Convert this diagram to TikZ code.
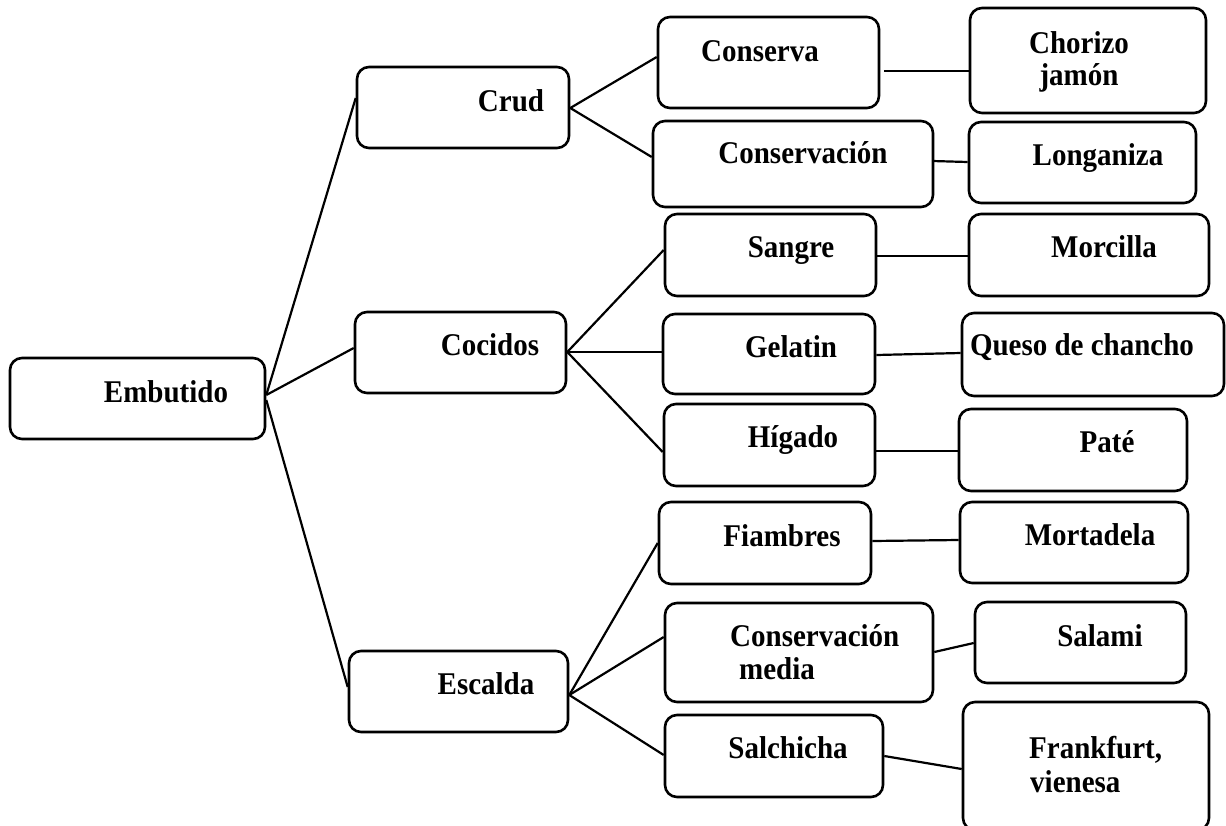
\documentclass[tikz,border=0pt]{standalone}
\usepackage{fontspec}
\usepackage{graphicx}
\setmainfont{Liberation Serif}
\usetikzlibrary{calc}
\newcommand\tallt[1]{\scalebox{1}[1.09]{#1}}
\begin{document}
\begin{tikzpicture}[x=1pt,y=-1pt,
  box/.style={draw,line width=2.6pt,rounded corners=12pt,inner sep=0pt},
  lbl/.style={anchor=base,inner sep=0pt,font=\fontsize{29}{34}\selectfont\bfseries},
  lblw/.style={lbl,anchor=base west},
  link/.style={line width=2.2pt}]
\useasboundingbox (0,0) rectangle (1226,825);

% boxes
\node[box,minimum width=255pt,minimum height=81pt] (emb) at (137.5,398.5) {};
\node[box,minimum width=212pt,minimum height=81pt] (crud) at (463,107.5) {};
\node[box,minimum width=211pt,minimum height=81pt] (coc) at (460.5,352.5) {};
\node[box,minimum width=219pt,minimum height=81pt] (esc) at (458.5,691.5) {};
\node[box,minimum width=221pt,minimum height=91pt] (cons) at (768.5,62.5) {};
\node[box,minimum width=280pt,minimum height=86pt] (consv) at (793,164) {};
\node[box,minimum width=211pt,minimum height=82pt] (sang) at (770.5,255) {};
\node[box,minimum width=212pt,minimum height=80pt] (gel) at (769,354) {};
\node[box,minimum width=211pt,minimum height=82pt] (hig) at (769.5,445) {};
\node[box,minimum width=212pt,minimum height=82pt] (fia) at (765,543) {};
\node[box,minimum width=268pt,minimum height=99pt] (cm) at (799,652.5) {};
\node[box,minimum width=218pt,minimum height=82pt] (salc) at (774,756) {};
\node[box,minimum width=236pt,minimum height=105pt] (chor) at (1088,60.5) {};
\node[box,minimum width=227pt,minimum height=81pt] (long) at (1082.5,162.5) {};
\node[box,minimum width=240pt,minimum height=82pt] (morc) at (1089,255) {};
\node[box,minimum width=262pt,minimum height=83pt] (ques) at (1093,354.5) {};
\node[box,minimum width=228pt,minimum height=82pt] (pate) at (1073,450) {};
\node[box,minimum width=228pt,minimum height=81pt] (mort) at (1074,542.5) {};
\node[box,minimum width=211pt,minimum height=81pt] (sala) at (1080.5,642.5) {};
\node[box,minimum width=246pt,minimum height=128pt] (frank) at (1086,766) {};

% labels
\node[lbl] (tEmb) at (166,402) {\tallt{Embutido}};
\node[lbl] (tCrud) at (511,111) {\tallt{Crud}};
\node[lbl] (tCoc) at (490,355) {\tallt{Cocidos}};
\node[lbl] (tEsc) at (486,694) {\tallt{Escalda}};
\node[lbl] (tCons) at (760,61) {\tallt{Conserva}};
\node[lbl] (tChorA) at (1079,53) {\tallt{Chorizo}};
\node[lbl] (tChorB) at (1079,85) {\tallt{jamón}};
\node[lbl] (tConsv) at (803,163) {\tallt{Conservación}};
\node[lbl] (tLong) at (1098,165) {\tallt{Longaniza}};
\node[lbl] (tSang) at (791,257) {\tallt{Sangre}};
\node[lbl] (tMorc) at (1104,257) {\tallt{Morcilla}};
\node[lbl] (tGel) at (791,357) {\tallt{Gelatin}};
\node[lbl] (tQues) at (1082,355) {\tallt{Queso de chancho}};
\node[lbl] (tHig) at (793,447) {\tallt{Hígado}};
\node[lbl] (tPate) at (1107,452) {\tallt{Paté}};
\node[lbl] (tFia) at (782,546) {\tallt{Fiambres}};
\node[lbl] (tMort) at (1090,545) {\tallt{Mortadela}};
\node[lblw] (tCmA) at (730,646) {\tallt{Conservación}};
\node[lblw] (tCmB) at (739,679) {\tallt{media}};
\node[lbl] (tSala) at (1100,646) {\tallt{Salami}};
\node[lbl] (tSalc) at (788,758) {\tallt{Salchicha}};
\node[lblw] (tFrA) at (1029,758) {\tallt{Frankfurt,}};
\node[lblw] (tFrB) at (1030,792) {\tallt{vienesa}};

% connectors
\draw[link] ($(emb.east)+(0,-3.5)$) -- ($(crud.west)+(0,-9.5)$);
\draw[link] ($(emb.east)+(0,-3.5)$) -- ($(coc.west)+(0,-4.5)$);
\draw[link] ($(emb.east)+(0,1.5)$) -- ($(esc.west)+(0,-4.5)$);
\draw[link] ($(crud.east)+(0,0.5)$) -- ($(cons.west)+(0,-5.5)$);
\draw[link] ($(crud.east)+(0,0.5)$) -- ($(consv.west)+(0,-7)$);
\draw[link] ($(cons.east)+(4,8.5)$) -- ($(chor.west)+(0,10.5)$);
\draw[link] ($(consv.east)+(-2,-3)$) -- ($(long.west)+(0,-0.5)$);
\draw[link] ($(coc.east)+(0,-0.5)$) -- ($(sang.west)+(0,-5)$);
\draw[link] ($(coc.east)+(0,-0.5)$) -- ($(gel.west)+(0,-2)$);
\draw[link] ($(coc.east)+(0,-0.5)$) -- ($(hig.west)+(0,7)$);
\draw[link] ($(sang.east)+(0,1)$) -- ($(morc.west)+(0,1)$);
\draw[link] ($(gel.east)+(0,1)$) -- ($(ques.west)+(0,-1.5)$);
\draw[link] ($(hig.east)+(0,6)$) -- ($(pate.west)+(0,1)$);
\draw[link] ($(esc.east)+(0,3.5)$) -- ($(fia.west)+(0,0)$);
\draw[link] ($(esc.east)+(0,3.5)$) -- ($(cm.west)+(0,-15.5)$);
\draw[link] ($(esc.east)+(0,3.5)$) -- ($(salc.west)+(0,-1)$);
\draw[link] ($(fia.east)+(0,-2)$) -- ($(mort.west)+(0,-2.5)$);
\draw[link] ($(cm.east)+(0,-0.5)$) -- ($(sala.west)+(0,0.5)$);
\draw[link] ($(salc.east)+(0,0)$) -- ($(frank.west)+(0,3)$);
\end{tikzpicture}
\end{document}
